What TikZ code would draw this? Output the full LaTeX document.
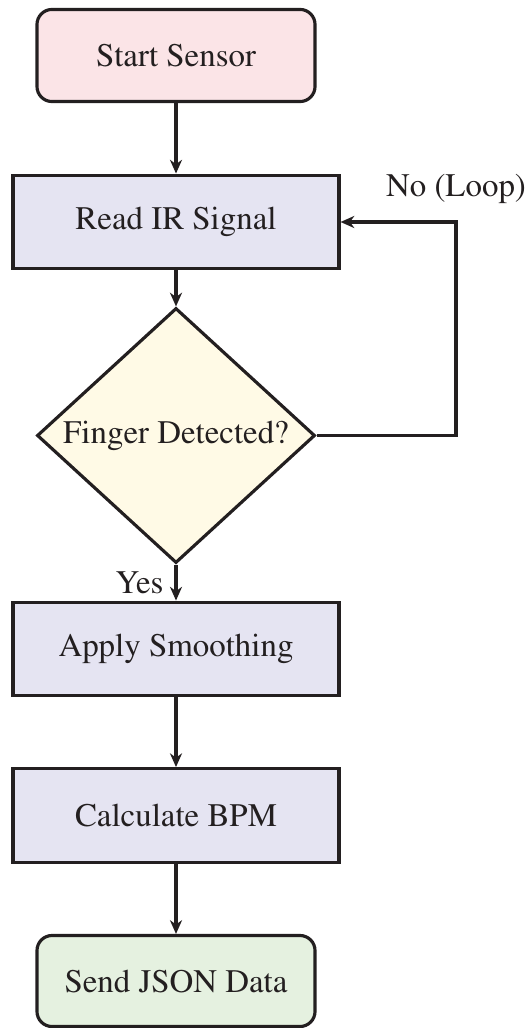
\documentclass[tikz,border=0pt]{standalone}
\usepackage[T1]{fontenc}
\usepackage{times}
\usetikzlibrary{shapes.geometric,arrows.meta}
\definecolor{startfill}{RGB}{251,228,231}
\definecolor{procfill}{RGB}{229,228,242}
\definecolor{decfill}{RGB}{255,250,230}
\definecolor{endfill}{RGB}{229,241,224}
\definecolor{linecol}{RGB}{35,31,32}
\tikzset{
  px/.style={x=0.3647pt,y=-0.3647pt},
  base/.style={draw=linecol,line width=1.15pt,text=linecol,font=\fontsize{12}{14}\selectfont,inner sep=0pt},
  termbox/.style={base,rounded corners=5.5pt,minimum width=101.4pt,minimum height=33.6pt},
  procbox/.style={base,minimum width=118.9pt,minimum height=34.2pt,fill=procfill},
  decbox/.style={base,shape=diamond,aspect=1.09,minimum width=101.4pt,minimum height=93pt,fill=decfill},
  flow/.style={draw=linecol,line width=1.15pt,-{Stealth[length=5pt,width=4.4pt,inset=1.6pt]}},
  lbl/.style={text=linecol,font=\fontsize{12}{14}\selectfont,inner sep=0pt}
}
\begin{document}
\begin{tikzpicture}[px]
\useasboundingbox (0,0) rectangle (531,1028);
\node[termbox,fill=startfill] (start) at (176,55.5) {Start Sensor};
\node[procbox] (read) at (176,222) {Read IR Signal};
\node[decbox] (dec) at (176,435.5) {Finger Detected?};
\node[procbox] (apply) at (176,649) {Apply Smoothing};
\node[procbox] (calc) at (176,815.5) {Calculate BPM};
\node[termbox,fill=endfill,minimum height=33.2pt] (send) at (176,981) {Send JSON Data};
\coordinate (loopc) at (456,222);
\node[lbl,anchor=base] (nolbl) at (456,197) {No (Loop)};
\node[lbl,anchor=base east] (yeslbl) at (164,593) {Yes};
\draw[flow] (start) -- (read);
\draw[flow] (read) -- (dec);
\draw[flow] (dec) -- (apply);
\draw[flow] (apply) -- (calc);
\draw[flow] (calc) -- (send);
\draw[flow] (dec.east) -| (loopc) -- (read.east);
\end{tikzpicture}
\end{document}
